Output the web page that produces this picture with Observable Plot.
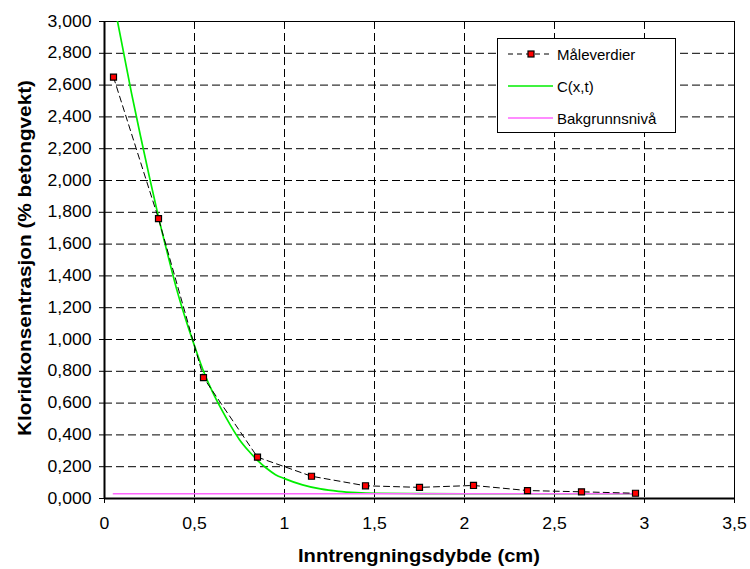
<!DOCTYPE html>
<html>
<head>
<meta charset="utf-8">
<script src="https://cdn.jsdelivr.net/npm/d3@7"></script>
<script src="https://cdn.jsdelivr.net/npm/@observablehq/plot@0.6"></script>
<style>
  body { margin: 0; background: #fff; }
  svg { font-family: "Liberation Sans", Arial, sans-serif; }
</style>
</head>
<body>
<div id="chart"></div>
<script>
// Measured values (Måleverdier)
const depth = [0.05, 0.3, 0.55, 0.85, 1.15, 1.45, 1.75, 2.05, 2.35, 2.65, 2.95];
const measured = [2.65, 1.76, 0.76, 0.26, 0.14, 0.08, 0.07, 0.082, 0.05, 0.042, 0.033];

// Model curve C(x,t)
const modelDepth = [0.05, 0.10, 0.15, 0.20, 0.25, 0.30, 0.35, 0.40, 0.45, 0.50, 0.55, 0.60, 0.65, 0.70, 0.75, 0.80, 0.85, 0.90, 0.95, 1.00, 1.10, 1.20, 1.30, 1.40, 1.50, 1.75, 2.00, 2.50, 2.95];
const modelConc  = [3.13, 2.84, 2.55, 2.28, 2.02, 1.77, 1.54, 1.32, 1.13, 0.96, 0.80, 0.67, 0.56, 0.46, 0.37, 0.30, 0.24, 0.19, 0.15, 0.125, 0.086, 0.060, 0.045, 0.037, 0.033, 0.031, 0.030, 0.030, 0.030];

// Background level (Bakgrunnsnivå)
const backgroundDepth = [0.05, 2.95];
const backgroundConc = [0.03, 0.03];

const xTicks = [0, 0.5, 1, 1.5, 2, 2.5, 3, 3.5];
const yTicks = [0, 0.2, 0.4, 0.6, 0.8, 1.0, 1.2, 1.4, 1.6, 1.8, 2.0, 2.2, 2.4, 2.6, 2.8, 3.0];
const seriesNames = ["Måleverdier", "C(x,t)", "Bakgrunnsnivå"];
const xTitle = "Inntrengningsdybde (cm)";
const yTitle = "Kloridkonsentrasjon (% betongvekt)";

const measuredData = depth.map((d, i) => ({x: d, y: measured[i]}));
const modelData = modelDepth.map((d, i) => ({x: d, y: modelConc[i]}));
const bgData = backgroundDepth.map((d, i) => ({x: d, y: backgroundConc[i]}));

const fx = v => String(v).replace(".", ",");
const fy = v => d3.format(".3f")(v).replace(".", ",");

const xMax = xTicks[xTicks.length - 1];
const yMax = yTicks[yTicks.length - 1];

const chart = Plot.plot({
  width: 750,
  height: 569,
  marginLeft: 104,
  marginRight: 16,
  marginTop: 21,
  marginBottom: 71,
  style: {fontFamily: "'Liberation Sans', Arial, sans-serif", fontSize: "16px", color: "#000", background: "#fff"},
  x: {domain: [0, xMax]},
  y: {domain: [0, yMax]},
  marks: [
    Plot.gridX(xTicks.filter(t => t > 0 && t < xMax), {stroke: "#000", strokeOpacity: 1, strokeDasharray: "8,4"}),
    Plot.gridY(yTicks.filter(t => t > 0 && t < yMax), {stroke: "#000", strokeOpacity: 1, strokeDasharray: "8,4"}),
    Plot.frame({stroke: "#000", strokeWidth: 1}),
    Plot.axisX(xTicks, {tickSize: 5, tickPadding: 14, tickFormat: fx, label: null, fontSize: 16}),
    Plot.axisY(yTicks, {tickSize: 5, tickPadding: 8, tickFormat: fy, label: null, fontSize: 16}),
    Plot.ruleY([0], {stroke: "#000", strokeWidth: 2}),
    Plot.ruleX([0], {stroke: "#000", strokeWidth: 2}),
    Plot.line(modelData, {x: "x", y: "y", stroke: "#00ee00", strokeWidth: 1.7, curve: "monotone-x", clip: true}),
    Plot.line(bgData, {x: "x", y: "y", stroke: "#ff66ff", strokeWidth: 1.7}),
    Plot.line(measuredData, {x: "x", y: "y", stroke: "#000", strokeWidth: 1, strokeDasharray: "6,4"}),
    Plot.dot(measuredData, {x: "x", y: "y", symbol: "square", r: 3.4, fill: "#ff0000", stroke: "#000", strokeWidth: 1.2})
  ]
});

document.getElementById("chart").appendChild(chart);
const svg = d3.select(chart);

// slight horizontal stretch of tick labels, as in the reference
svg.selectAll('g[aria-label="x-axis tick label"] text, g[aria-label="y-axis tick label"] text').each(function() {
  const len = this.getComputedTextLength();
  d3.select(this).attr("textLength", len * 1.1).attr("lengthAdjust", "spacingAndGlyphs");
});

// Axis titles
svg.append("text")
  .attr("x", 419).attr("y", 562)
  .attr("text-anchor", "middle")
  .attr("font-weight", "bold").attr("font-size", 18)
  .attr("textLength", 242).attr("lengthAdjust", "spacingAndGlyphs")
  .text(xTitle);

svg.append("text")
  .attr("transform", "translate(31,258) rotate(-90)")
  .attr("text-anchor", "middle")
  .attr("font-weight", "bold").attr("font-size", 19)
  .attr("textLength", 356).attr("lengthAdjust", "spacingAndGlyphs")
  .text(yTitle);

// Legend
const lg = svg.append("g").attr("text-anchor", "start");
lg.append("rect").attr("x", 497.5).attr("y", 38.5).attr("width", 178).attr("height", 94)
  .attr("fill", "#fff").attr("stroke", "#000").attr("stroke-width", 1);
const rows = [54, 86, 118];
lg.append("line").attr("x1", 508).attr("x2", 553).attr("y1", rows[0]).attr("y2", rows[0])
  .attr("stroke", "#000").attr("stroke-dasharray", "5,4");
lg.append("rect").attr("x", 528).attr("y", rows[0] - 3).attr("width", 6).attr("height", 6)
  .attr("fill", "#ff0000").attr("stroke", "#000").attr("stroke-width", 1.2);
lg.append("line").attr("x1", 508).attr("x2", 553).attr("y1", rows[1]).attr("y2", rows[1])
  .attr("stroke", "#00ee00").attr("stroke-width", 1.7);
lg.append("line").attr("x1", 508).attr("x2", 553).attr("y1", rows[2]).attr("y2", rows[2])
  .attr("stroke", "#ff66ff").attr("stroke-width", 1.7);
seriesNames.forEach((name, i) => {
  lg.append("text").attr("x", 557).attr("y", rows[i] + 5.5)
    .attr("text-anchor", "start")
    .attr("font-size", 15).attr("fill", "#000").text(name);
});
</script>
</body>
</html>
